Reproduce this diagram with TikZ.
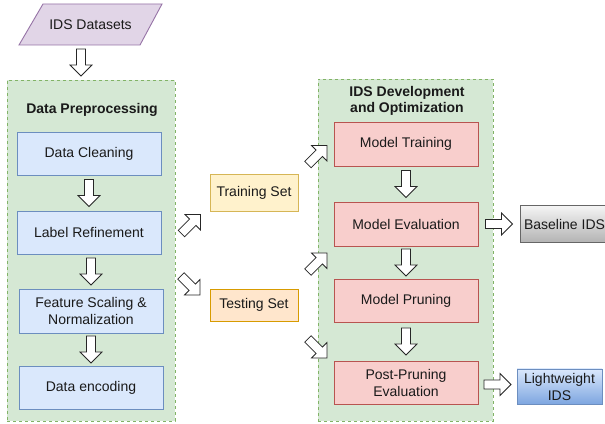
\documentclass[tikz,border=0pt]{standalone}
\usepackage{fontspec}
\setmainfont{Liberation Sans}
\usetikzlibrary{calc}
\definecolor{purF}{HTML}{E1D5E7}
\definecolor{purD}{HTML}{9673A6}
\definecolor{grnF}{HTML}{D5E8D4}
\definecolor{grnD}{HTML}{82B366}
\definecolor{bluF}{HTML}{DAE8FC}
\definecolor{bluD}{HTML}{6C8EBF}
\definecolor{bluG}{HTML}{7EA6E0}
\definecolor{yelF}{HTML}{FFF2CC}
\definecolor{yelD}{HTML}{D6B656}
\definecolor{orgF}{HTML}{FFE6CC}
\definecolor{orgD}{HTML}{D79B00}
\definecolor{redF}{HTML}{F8CECC}
\definecolor{redD}{HTML}{B85450}
\definecolor{gryT}{HTML}{F5F5F5}
\definecolor{gryB}{HTML}{B3B3B3}
\definecolor{gryD}{HTML}{666666}
\definecolor{txt}{HTML}{1A1A1A}
\tikzset{
  base/.style={font=\fontsize{14}{17}\selectfont, text=txt, align=center, inner sep=0pt, line width=0.9pt},
  container/.style={base, draw=grnD, fill=grnF, dashed, dash pattern=on 3pt off 3pt},
  bluebox/.style={base, draw=bluD, fill=bluF, minimum width=144pt, minimum height=43pt},
  redbox/.style={base, draw=redD, fill=redF, minimum width=144pt, minimum height=44pt},
  yelbox/.style={base, draw=yelD, fill=yelF, minimum width=88pt},
  orgbox/.style={base, draw=orgD, fill=orgF, minimum width=88pt},
  title/.style={base, font=\fontsize{14}{16}\selectfont\bfseries},
  barrow/.pic={\draw[fill=white, draw=black!85, line width=0.8pt, line join=miter]
     (-13.5,-4.5) -- (2.5,-4.5) -- (2.5,-11) -- (13.5,0) -- (2.5,11) -- (2.5,4.5) -- (-13.5,4.5) -- cycle;}
}
\begin{document}
\begin{tikzpicture}[x=1pt,y=1pt]
\useasboundingbox (0,0) rectangle (605,423);
\clip (0,0) rectangle (605,423);
\fill[white] (0,0) rectangle (605,423);

% input dataset (parallelogram)
\draw[fill=purF, draw=purD, line width=0.9pt] (19,378) -- (43,419) -- (162,419) -- (140,378) -- cycle;
\node[base] (ds) at (90.5,398.5) {IDS Datasets};

% containers
\node[container, minimum width=168pt, minimum height=341pt] (lc) at (91,172.5) {};
\node[container, minimum width=175pt, minimum height=342pt] (rc) at (405.5,173) {};

\node[title] (lt) at (92,313) {Data Preprocessing};
\node[title] (rt) at (407,322) {IDS Development\\and Optimization};

% left column
\node[bluebox] (dc) at (89,269.5) {Data Cleaning};
\node[bluebox] (lr) at (89,190.5) {Label Refinement};
\node[bluebox, minimum height=44pt] (fs) at (91,112) {Feature Scaling \&\\Normalization};
\node[bluebox] (de) at (91,35.5) {Data encoding};

% split sets
\node[yelbox, minimum height=37pt] (tr) at (254,230.5) {Training Set};
\node[orgbox, minimum height=32pt] (ts) at (254,118) {Testing Set};

% right column
\node[redbox] (mt) at (406,279) {Model Training};
\node[redbox] (me) at (406,199) {Model Evaluation};
\node[redbox, minimum height=43pt] (mp) at (406,122.5) {Model Pruning};
\node[redbox, minimum height=43pt] (pe) at (406,40.5) {Post-Pruning\\Evaluation};

% outputs
\node[base, draw=gryD, top color=gryT, bottom color=gryB, minimum width=89pt, minimum height=37pt] (bl) at (564.5,199) {Baseline IDS};
\node[base, draw=bluD, top color=bluF, bottom color=bluG, minimum width=85pt, minimum height=35pt] (lw) at (559.5,36.5) {Lightweight\\IDS};

% block arrows
\pic[rotate=-90] at (81,360.5) {barrow};
\pic[rotate=-90] at ($(dc.south)!0.5!(lr.north)$) {barrow};
\pic[rotate=-90] at ($(lr.south)!0.5!(fs.north)+(1,0)$) {barrow};
\pic[rotate=-90] at ($(fs.south)!0.5!(de.north)$) {barrow};

\pic[rotate=45] at (191,199) {barrow};
\pic[rotate=-45] at (190.5,137.5) {barrow};
\pic[rotate=45] at (317.5,268) {barrow};
\pic[rotate=45] at (317.5,160.5) {barrow};
\pic[rotate=-45] at (317.5,74.5) {barrow};

\pic[rotate=-90] at ($(mt.south)!0.5!(me.north)$) {barrow};
\pic[rotate=-90] at ($(me.south)!0.5!(mp.north)$) {barrow};
\pic[rotate=-90] at ($(mp.south)!0.5!(pe.north)$) {barrow};

\pic at ($(me.east)!0.5!(bl.west)$) {barrow};
\pic at ($(pe.east)!0.5!(lw.west)$) {barrow};
\end{tikzpicture}
\end{document}
